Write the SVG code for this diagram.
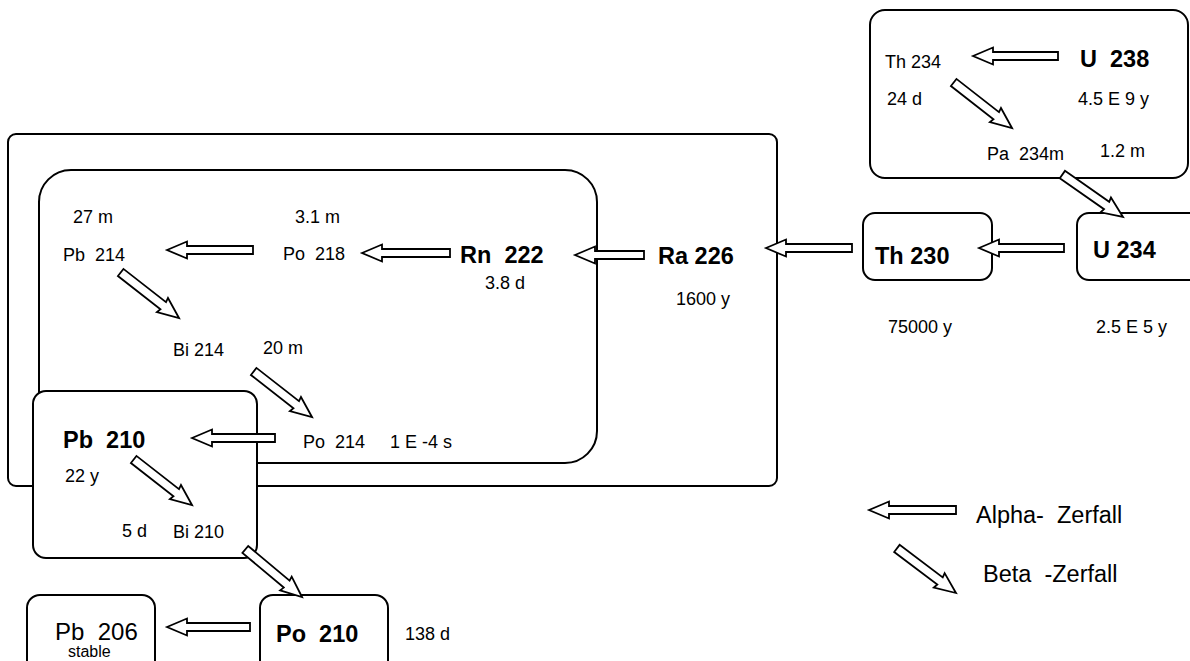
<svg xmlns="http://www.w3.org/2000/svg" xmlns:xlink="http://www.w3.org/1999/xlink" width="1190" height="661" viewBox="0 0 1190 661">
<style>
.box{fill:#fff;stroke:#000;stroke-width:2}
.frame{fill:none;stroke:#000;stroke-width:2}
.arr{fill:#fff;stroke:#000;stroke-width:1.8;stroke-linejoin:miter}
text{font-family:"Liberation Sans",Arial,sans-serif;fill:#000}
.t{font-size:18px}
.b{font-size:23.5px;font-weight:bold}
.l{font-size:23.5px}
</style>
<defs>
<path id="beta" class="arr" d="M0,0 L-21,-9 L-20,-4.5 L-74,-4.5 L-74,4.5 L-20,4.5 L-21,9 Z"/>
</defs>
<rect id="sky" x="0" y="0" width="1190" height="661" fill="#fff"/>

<g id="box-outer"><rect class="frame" x="8" y="134" width="769" height="352" rx="8"/></g>
<g id="box-inner"><rect class="frame" x="39" y="170" width="558" height="293" rx="32"/></g>
<g id="box-u238"><rect class="box" x="870" y="10" width="318" height="168" rx="15"/></g>
<g id="box-th230"><rect class="box" x="863" y="213" width="129" height="67" rx="12"/></g>
<g id="box-u234"><rect class="box" x="1077" y="213" width="125" height="67" rx="12"/></g>
<g id="box-pb210"><rect class="box" x="33" y="391" width="224" height="167" rx="13"/></g>
<g id="box-pb206"><rect class="box" x="27" y="595" width="128" height="90" rx="13"/></g>
<g id="box-po210"><rect class="box" x="260" y="595" width="128" height="90" rx="13"/></g>

<g id="connectors">
<polygon class="arr" points="973,56 993,47.5 993,52 1058,52 1058,60 993,60 993,64.5"/>
<polygon class="arr" points="167,250 187,241.5 187,246 253,246 253,254 187,254 187,258.5"/>
<polygon class="arr" points="362,253 382,244.5 382,249 450,249 450,257 382,257 382,261.5"/>
<polygon class="arr" points="575,255 595,246.5 595,251 644,251 644,259 595,259 595,263.5"/>
<polygon class="arr" points="766,248 786,239.5 786,244 852,244 852,252 786,252 786,256.5"/>
<polygon class="arr" points="979,248 999,239.5 999,244 1064,244 1064,252 999,252 999,256.5"/>
<polygon class="arr" points="192,438 212,429.5 212,434 275,434 275,442 212,442 212,446.5"/>
<polygon class="arr" points="167,627 187,618.5 187,623 250,623 250,631 187,631 187,635.5"/>
<use xlink:href="#beta" href="#beta" transform="translate(1012,128) rotate(38)"/>
<use xlink:href="#beta" href="#beta" transform="translate(179,318) rotate(38)"/>
<use xlink:href="#beta" href="#beta" transform="translate(312,417) rotate(38)"/>
<use xlink:href="#beta" href="#beta" transform="translate(192,505) rotate(38)"/>
<use xlink:href="#beta" href="#beta" transform="translate(302,597) rotate(40)"/>
<use xlink:href="#beta" href="#beta" transform="translate(1123,217) rotate(35)"/>
</g>

<g id="u238"><text class="b" x="1080" y="67" xml:space="preserve">U  238</text><text class="t" x="1078" y="105">4.5 E 9 y</text></g>
<g id="th234"><text class="t" x="885" y="68">Th 234</text><text class="t" x="887" y="105">24 d</text></g>
<g id="pa234m"><text class="t" x="987" y="160" xml:space="preserve">Pa  234m</text><text class="t" x="1100" y="157">1.2 m</text></g>
<g id="u234"><text class="b" x="1093" y="258">U 234</text><text class="t" x="1096" y="333">2.5 E 5 y</text></g>
<g id="th230"><text class="b" x="875" y="264">Th 230</text><text class="t" x="888" y="333">75000 y</text></g>
<g id="ra226"><text class="b" x="658" y="264">Ra 226</text><text class="t" x="676" y="305">1600 y</text></g>
<g id="rn222"><text class="b" x="460" y="263" xml:space="preserve">Rn  222</text><text class="t" x="485" y="289">3.8 d</text></g>
<g id="po218"><text class="t" x="283" y="260" xml:space="preserve">Po  218</text><text class="t" x="295" y="223">3.1 m</text></g>
<g id="pb214"><text class="t" x="63" y="261" xml:space="preserve">Pb  214</text><text class="t" x="73" y="223">27 m</text></g>
<g id="bi214"><text class="t" x="173" y="356">Bi 214</text><text class="t" x="263" y="354">20 m</text></g>
<g id="po214"><text class="t" x="303" y="448" xml:space="preserve">Po  214</text><text class="t" x="390" y="448">1 E -4 s</text></g>
<g id="pb210"><text class="b" x="63" y="448" xml:space="preserve">Pb  210</text><text class="t" x="65" y="482">22 y</text></g>
<g id="bi210"><text class="t" x="173" y="538">Bi 210</text><text class="t" x="122" y="537">5 d</text></g>
<g id="po210"><text class="b" x="276" y="642" xml:space="preserve">Po  210</text><text class="t" x="405" y="640">138 d</text></g>
<g id="pb206"><text x="55" y="640" font-size="24" xml:space="preserve">Pb  206</text><text x="68" y="657" font-size="16">stable</text></g>

<g id="legend">
<polygon class="arr" points="869,510 889,501.5 889,506 956,506 956,514 889,514 889,518.5"/>
<use xlink:href="#beta" href="#beta" transform="translate(956,593) rotate(37)"/>
<text class="l" x="976" y="523" xml:space="preserve">Alpha-  Zerfall</text>
<text class="l" x="983" y="582" xml:space="preserve">Beta  -Zerfall</text>
</g>
</svg>
